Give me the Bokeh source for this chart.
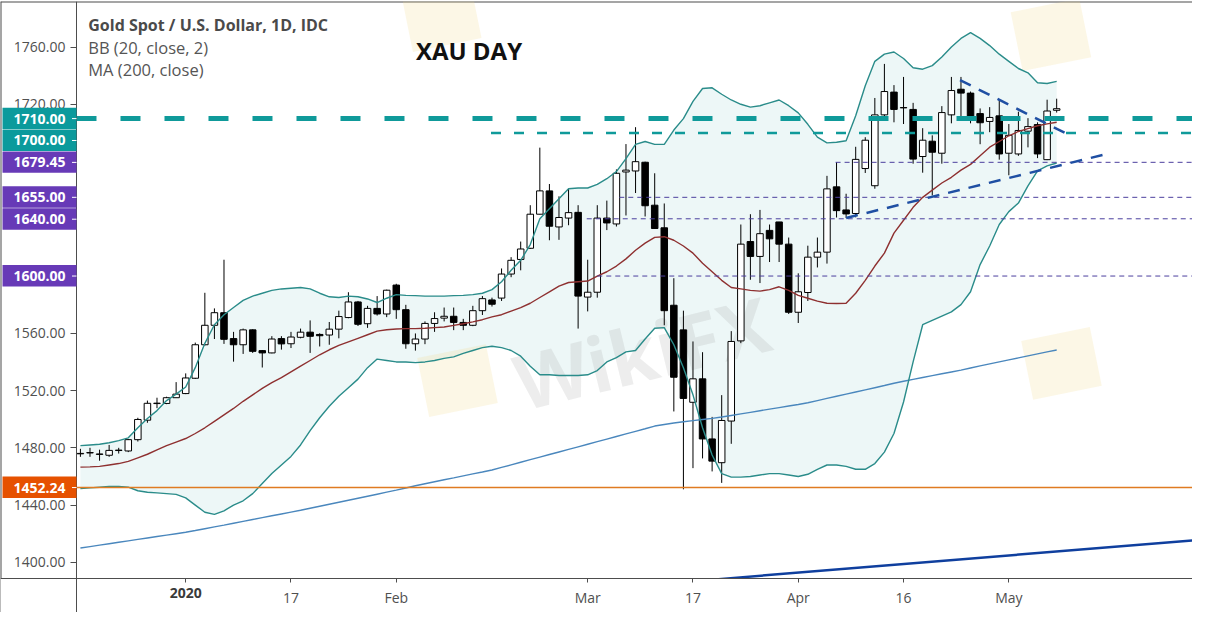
from bokeh.plotting import figure
from bokeh.models import Range1d, LinearAxis, FixedTicker, PrintfTickFormatter, ColumnDataSource
from bokeh.core.properties import value
from bokeh.embed import file_html
from bokeh.resources import INLINE

# ---------------- data ----------------
opens = [1475.9, 1476.4, 1475.5, 1474.8, 1478.2, 1477.8, 1485.7, 1499.3, 1511.0, 1511.0,
         1515.0, 1517.9, 1528.6, 1552.0, 1565.6, 1574.4, 1556.3, 1552.0, 1562.4, 1547.9,
         1546.3, 1556.3, 1552.7, 1557.2, 1560.8, 1559.2, 1558.8, 1562.9, 1571.0, 1581.9,
         1566.7, 1577.4, 1573.5, 1593.7, 1576.5, 1552.7, 1556.0, 1566.9, 1570.6, 1571.9,
         1567.6, 1565.6, 1575.8, 1583.3, 1584.6, 1601.4, 1611.6, 1619.4, 1643.2, 1659.5,
         1634.3, 1640.5, 1644.5, 1585.3, 1588.7, 1640.5, 1636.4, 1672.7, 1673.4, 1679.5,
         1649.5, 1633.7, 1579.6, 1562.4, 1511.8, 1528.2, 1486.2, 1469.6, 1498.7, 1554.7,
         1624.1, 1613.7, 1631.9, 1637.8, 1622.3, 1574.7, 1588.5, 1613.2, 1616.7, 1662.3,
         1646.2, 1643.7, 1675.1, 1663.1, 1712.6, 1728.5, 1717.6, 1716.4, 1683.5, 1694.2,
         1685.8, 1712.6, 1730.5, 1727.8, 1713.5, 1708.0, 1711.9, 1685.8, 1685.3, 1701.2,
         1705.8, 1681.3, 1715.8]
highs = [1479.3, 1480.0, 1478.7, 1482.0, 1480.0, 1486.0, 1501.0, 1513.0, 1515.0, 1515.7,
         1525.9, 1532.0, 1553.5, 1588.3, 1577.4, 1611.4, 1561.0, 1563.3, 1562.8, 1548.3,
         1558.0, 1558.0, 1561.0, 1563.3, 1569.0, 1560.0, 1567.9, 1575.8, 1588.7, 1582.6,
         1579.2, 1586.0, 1590.5, 1594.6, 1579.9, 1559.9, 1568.3, 1574.7, 1578.0, 1578.0,
         1570.1, 1579.2, 1586.0, 1584.9, 1605.3, 1613.2, 1624.1, 1649.5, 1689.7, 1664.3,
         1655.7, 1660.9, 1649.5, 1611.4, 1649.5, 1652.7, 1674.5, 1692.2, 1704.0, 1679.9,
         1671.8, 1650.7, 1598.5, 1575.8, 1554.3, 1546.8, 1501.6, 1516.8, 1561.5, 1636.0,
         1643.2, 1646.2, 1636.0, 1637.8, 1626.9, 1601.9, 1621.2, 1626.9, 1670.0, 1679.5,
         1657.5, 1690.3, 1697.0, 1724.4, 1748.2, 1733.4, 1739.1, 1721.0, 1703.3, 1698.3,
         1718.7, 1739.1, 1739.1, 1728.9, 1717.1, 1718.0, 1723.2, 1706.2, 1714.8, 1710.3,
         1707.4, 1723.2, 1723.9]
lows = [1473.7, 1473.7, 1471.0, 1473.7, 1476.0, 1477.0, 1484.4, 1497.5, 1507.7, 1510.5,
        1515.0, 1517.5, 1528.1, 1551.5, 1556.0, 1552.6, 1540.2, 1545.6, 1546.3, 1536.1,
        1546.0, 1548.6, 1549.7, 1556.5, 1546.3, 1550.8, 1552.0, 1556.5, 1570.5, 1565.1,
        1563.8, 1572.4, 1571.3, 1570.1, 1549.2, 1547.9, 1552.4, 1561.0, 1568.3, 1562.2,
        1562.2, 1565.0, 1572.8, 1578.7, 1582.6, 1599.2, 1604.0, 1619.0, 1643.0, 1625.0,
        1625.3, 1635.5, 1563.3, 1575.3, 1584.9, 1632.1, 1634.6, 1642.3, 1658.0, 1641.6,
        1633.0, 1565.6, 1505.4, 1451.0, 1465.8, 1472.6, 1463.5, 1455.5, 1482.8, 1553.1,
        1597.4, 1595.1, 1609.8, 1609.8, 1573.5, 1567.2, 1582.6, 1606.0, 1608.7, 1640.9,
        1640.5, 1641.0, 1672.0, 1661.0, 1708.5, 1707.4, 1706.2, 1678.5, 1672.2, 1656.3,
        1678.5, 1706.7, 1710.8, 1706.7, 1692.1, 1700.5, 1681.3, 1670.4, 1684.0, 1689.9,
        1682.4, 1681.0, 1714.2]
closes = [1476.0, 1476.6, 1475.6, 1478.2, 1478.3, 1485.7, 1499.8, 1511.1, 1511.1, 1515.0,
          1517.5, 1528.8, 1552.0, 1565.6, 1574.4, 1555.8, 1552.0, 1562.4, 1547.4, 1546.3,
          1556.0, 1552.6, 1557.4, 1560.8, 1557.9, 1558.3, 1562.9, 1571.7, 1581.9, 1566.3,
          1577.4, 1573.5, 1590.1, 1576.5, 1552.7, 1556.0, 1566.9, 1570.3, 1571.9, 1567.6,
          1565.6, 1575.8, 1584.2, 1580.3, 1601.4, 1611.0, 1618.9, 1643.2, 1659.5, 1634.8,
          1640.9, 1644.3, 1586.0, 1588.7, 1640.5, 1637.1, 1671.8, 1674.0, 1679.9, 1649.1,
          1633.2, 1575.8, 1529.3, 1514.5, 1528.2, 1486.2, 1470.7, 1499.1, 1554.3, 1622.3,
          1613.7, 1629.6, 1626.0, 1622.3, 1574.7, 1589.0, 1613.2, 1616.7, 1660.9, 1645.7,
          1643.4, 1681.5, 1694.9, 1712.6, 1728.9, 1716.4, 1717.6, 1681.7, 1694.9, 1686.5,
          1714.2, 1729.6, 1727.8, 1710.8, 1707.1, 1710.8, 1685.3, 1698.3, 1701.7, 1704.4,
          1685.3, 1715.3, 1716.9]

bb_upper = [1481.5, 1482.0, 1482.5, 1483.5, 1485.0, 1487.0, 1494.0, 1500.5, 1506.0, 1513.0,
            1517.5, 1522.5, 1536.0, 1553.0, 1566.0, 1573.0, 1578.0, 1583.0, 1586.0, 1588.0,
            1590.0, 1591.0, 1591.5, 1592.0, 1591.0, 1588.0, 1585.5, 1585.0, 1586.0, 1585.5,
            1584.0, 1581.5, 1584.5, 1587.0, 1586.5, 1586.3, 1586.0, 1586.0, 1586.0, 1586.3,
            1586.5, 1587.0, 1588.0, 1590.5, 1596.0, 1604.0, 1611.0, 1622.0, 1640.0, 1647.0,
            1654.0, 1661.0, 1661.5, 1661.5, 1664.0, 1668.0, 1673.0, 1682.0, 1692.0, 1694.0,
            1692.0, 1692.0, 1702.0, 1710.0, 1722.0, 1731.0, 1731.5, 1727.0, 1723.0, 1720.0,
            1718.0, 1719.0, 1721.0, 1723.0, 1719.0, 1714.0, 1706.0, 1697.0, 1693.0, 1693.5,
            1694.5, 1712.0, 1733.0, 1750.0, 1755.0, 1756.5, 1752.0, 1745.5, 1744.5, 1747.0,
            1753.0, 1760.0, 1766.0, 1770.0, 1766.0, 1761.0, 1755.0, 1750.0, 1745.0, 1742.0,
            1735.0, 1734.5, 1736.0]
bb_mid = [1466.5, 1466.7, 1467.0, 1468.0, 1469.0, 1470.5, 1473.0, 1475.5, 1478.5, 1481.5,
          1484.0, 1486.5, 1490.0, 1494.0, 1498.5, 1503.0, 1507.5, 1512.5, 1517.0, 1521.5,
          1525.5, 1529.0, 1533.0, 1537.0, 1541.0, 1545.0, 1548.5, 1551.5, 1554.0, 1556.5,
          1559.0, 1561.5, 1562.5, 1563.0, 1563.3, 1563.3, 1563.5, 1564.0, 1564.4, 1565.5,
          1566.7, 1568.0, 1569.5, 1571.5, 1573.0, 1575.5, 1578.0, 1581.0, 1585.0, 1589.0,
          1593.0, 1595.5, 1596.0, 1596.5, 1600.0, 1603.0, 1607.0, 1612.0, 1618.0, 1623.0,
          1627.0, 1627.5, 1625.0, 1621.0, 1616.0, 1609.0, 1603.0, 1597.0, 1592.0, 1591.0,
          1590.0, 1589.5, 1590.5, 1592.5, 1590.0, 1586.5, 1584.5, 1582.5, 1581.0, 1580.8,
          1581.0, 1588.0, 1597.0, 1607.0, 1616.0, 1630.0, 1639.0, 1648.0, 1655.0, 1660.0,
          1665.0, 1669.0, 1674.0, 1678.0, 1684.0, 1690.0, 1694.0, 1698.0, 1701.0, 1703.0,
          1705.0, 1706.3, 1707.4]
bb_lower = [1451.5, 1452.0, 1452.5, 1453.0, 1453.0, 1452.5, 1450.0, 1449.0, 1448.5, 1448.0,
            1447.5, 1445.0, 1440.0, 1435.0, 1433.5, 1436.0, 1440.0, 1443.0, 1448.0, 1455.0,
            1462.0, 1468.0, 1474.0, 1482.0, 1492.0, 1501.0, 1509.0, 1516.0, 1522.0, 1528.0,
            1536.0, 1542.0, 1541.0, 1540.0, 1540.0, 1539.5, 1540.0, 1541.0, 1542.5, 1543.5,
            1546.0, 1548.0, 1550.0, 1551.0, 1550.0, 1548.0, 1544.0, 1537.0, 1531.0, 1531.0,
            1530.5, 1530.5, 1530.5, 1531.0, 1534.0, 1540.0, 1543.0, 1547.0, 1548.0, 1556.0,
            1563.5, 1564.0, 1552.0, 1536.0, 1517.0, 1494.0, 1475.0, 1462.0, 1459.5, 1459.5,
            1460.0, 1461.0, 1462.0, 1462.0, 1461.0, 1460.0, 1461.5, 1465.0, 1468.0, 1468.0,
            1467.0, 1465.0, 1465.0, 1469.0, 1477.0, 1490.0, 1512.0, 1540.0, 1566.0, 1569.0,
            1572.0, 1575.0, 1580.0, 1589.0, 1608.0, 1621.0, 1636.0, 1645.0, 1651.0, 1663.0,
            1673.5, 1677.0, 1679.0]
ma200 = [1410.0, 1411.0, 1412.0, 1413.0, 1414.0, 1415.0, 1416.0, 1417.0, 1418.0, 1419.0,
         1420.0, 1421.0, 1422.2, 1423.5, 1424.8, 1426.0, 1427.3, 1428.6, 1429.9, 1431.2,
         1432.5, 1433.8, 1435.1, 1436.4, 1437.8, 1439.2, 1440.6, 1442.0, 1443.4, 1444.8,
         1446.2, 1447.6, 1449.0, 1450.4, 1451.9, 1453.5, 1454.9, 1456.3, 1457.7, 1459.0,
         1460.4, 1461.8, 1463.1, 1464.5, 1466.3, 1468.1, 1469.9, 1471.7, 1473.5, 1475.3,
         1477.1, 1478.9, 1480.7, 1482.5, 1484.3, 1486.1, 1487.9, 1489.7, 1491.5, 1493.3,
         1495.2, 1496.3, 1497.3, 1498.2, 1499.0, 1499.8, 1500.6, 1501.5, 1502.6, 1503.7,
         1504.8, 1505.9, 1507.0, 1508.1, 1509.2, 1510.3, 1511.5, 1513.0, 1514.5, 1516.0,
         1517.5, 1519.0, 1520.5, 1522.0, 1523.5, 1525.1, 1526.5, 1527.8, 1529.1, 1530.4,
         1531.7, 1533.0, 1534.3, 1535.8, 1537.2, 1538.6, 1540.0, 1541.4, 1542.8, 1544.2,
         1545.6, 1547.0, 1548.3]

# time-axis ticks (bar numbers) and their labels
tick_bars = [11, 22, 33, 53, 64, 75, 86, 97]
tick_labels = ["2020", "17", "Feb", "Mar", "17", "Apr", "16", "May"]
bold_tick_labels = ["2020"]
price_ticks = [1400, 1440, 1480, 1520, 1560, 1600, 1640, 1680, 1720, 1760]

# horizontal levels drawn on the chart and where each one starts (bar number)
level_values = [1710.00, 1700.00, 1679.45, 1655.00, 1640.00, 1600.00]
level_start_bars = [-0.41, 42.9, 78.9, 56.3, 52.9, 54.0]
support_value = 1452.24

# price-scale markers
marker_values = [1710.00, 1700.00, 1679.45, 1655.00, 1640.00, 1600.00, 1452.24]
marker_colors = ["#0b9a9c", "#0b9a9c", "#673ab7", "#673ab7", "#673ab7", "#673ab7", "#e65100"]

# drawn trend lines (bar number, price)
trend_down_bars = [91.9, 102.9]
trend_down_prices = [1736.9, 1699.9]
trend_up_bars = [80.0, 106.8]
trend_up_prices = [1640.6, 1684.6]
trend_long_bars = [60.0, 116.2]
trend_long_prices = [1384.6, 1415.3]

# watermark placements (bar number, price)
wm_text_bars = [45.5]
wm_text_prices = [1525.5]
wm_logo_bars = [37.7, 39.4, 101.4, 102.5]
wm_logo_prices = [1782.0, 1527.0, 1768.6, 1539.0]

# ---------------- layout constants ----------------
X0, X1 = -8.35, 116.19
Y0, Y1 = 1364.95, 1791.8      # frame covers the whole figure height
TIME_AXIS_Y = 1388.7          # price at which the time axis sits
AXIS_X = -0.41                # bar position of the price axis
BOX_LEFT = -8.14
BOX_H = 15.3
FONT = "Open Sans"
AXIS_COLOR = "#4d4d4d"
LABEL_COLOR = "#505050"

bars = list(range(len(opens)))

p = figure(width=1192, height=612,
           x_range=Range1d(X0, X1), y_range=Range1d(Y0, Y1),
           output_backend="svg", toolbar_location=None,
           x_axis_location=None, y_axis_location=None,
           min_border_left=0, min_border_right=0, min_border_top=1, min_border_bottom=0,
           outline_line_color=None,
           background_fill_color="white", border_fill_color="white")
p.grid.visible = False

# outer border (top and left)
p.line([X0, X1], [Y1, Y1], line_color=AXIS_COLOR, line_width=2)
p.line([X0, X0], [Y0, Y1], line_color=AXIS_COLOR, line_width=2)

# Bollinger band fill
p.varea(x=bars, y1=bb_lower, y2=bb_upper, fill_color="#edf7f7", fill_alpha=1.0)

# watermarks (faint)
p.rect(x=wm_logo_bars, y=wm_logo_prices, width=70, height=60, width_units="screen",
       height_units="screen", angle=0.2, fill_color="#f2dc8c", fill_alpha=0.22, line_color=None)
p.text(x=wm_text_bars, y=wm_text_prices, text=["WikiFX"] * len(wm_text_bars),
       text_font=value(FONT), text_font_size="76px", text_font_style="bold",
       text_color="#8c8c8c", text_alpha=0.16, angle=0.24,
       text_align="left", text_baseline="alphabetic")

# candles
up = [c >= o for o, c in zip(opens, closes)]
body_top = [max(o, c) for o, c in zip(opens, closes)]
body_bot = [min(o, c) for o, c in zip(opens, closes)]
body_top = [t if t - b > 0.2 else t + 0.1 for t, b in zip(body_top, body_bot)]
body_bot = [b if t - b > 0.2 else b - 0.1 for t, b in zip(body_top, body_bot)]
src = ColumnDataSource(dict(x=bars, h=highs, l=lows, top=body_top, bottom=body_bot,
                            fill=["white" if u else "black" for u in up]))
p.segment(x0="x", y0="l", x1="x", y1="h", source=src, line_color="black", line_width=1)
p.vbar(x="x", top="top", bottom="bottom", width=0.68, source=src,
       fill_color="fill", line_color="black", line_width=1)

# indicator lines
p.line(bars, ma200, line_color="#4a87bd", line_width=1.4)
p.line(bars, bb_mid, line_color="#8e3030", line_width=1.4)
p.line(bars, bb_upper, line_color="#2a8c8a", line_width=1.4)
p.line(bars, bb_lower, line_color="#2a8c8a", line_width=1.4)

# support line
p.line([AXIS_X, X1], [support_value, support_value], line_color="#e07b22", line_width=1.4)

# horizontal levels
for v, s in zip(level_values, level_start_bars):
    if v == 1710.00:
        p.line([s, X1], [v, v], line_color="#0f9a9a", line_width=5, line_dash="20 24")
    elif v == 1700.00:
        p.line([s, X1], [v, v], line_color="#0f9a9a", line_width=2.5, line_dash="10 13")
    else:
        p.line([s, X1], [v, v], line_color="#4b3f9e", line_width=1, line_dash="5 4")

# trend lines
p.line(trend_down_bars, trend_down_prices, line_color="#1f4fa3", line_width=2.5, line_dash="12 9")
p.line(trend_up_bars, trend_up_prices, line_color="#1f4fa3", line_width=2.5, line_dash="12 9")
p.line(trend_long_bars, trend_long_prices, line_color="#0f3f9e", line_width=2.5)

# white strip under the time axis (the time scale area)
p.varea(x=[X0, X1], y1=[Y0, Y0], y2=[TIME_AXIS_Y, TIME_AXIS_Y], fill_color="white")

# legend / title texts
p.text(x=[0.82], y=[1775.5], text=["Gold Spot / U.S. Dollar, 1D, IDC"],
       text_font=value(FONT), text_font_size="16px", text_font_style="bold",
       text_color="#4a4a4a", text_baseline="middle", text_align="left")
p.text(x=[0.82, 0.82], y=[1759.8, 1744.1], text=["BB (20, close, 2)", "MA (200, close)"],
       text_font=value(FONT), text_font_size="16.5px", text_color="#555555",
       text_baseline="middle", text_align="left")
p.text(x=[35.05], y=[1757.8], text=["XAU DAY"], text_font=value(FONT),
       text_font_size="24px", text_font_style="bold", text_color="#111111",
       text_baseline="middle", text_align="left")

# price axis (at the split between price scale and chart)
yaxis = LinearAxis(fixed_location=AXIS_X, ticker=FixedTicker(ticks=price_ticks, minor_ticks=[]),
                   formatter=PrintfTickFormatter(format="%.2f"))
yaxis.axis_line_color = AXIS_COLOR
yaxis.major_tick_line_color = AXIS_COLOR
yaxis.major_tick_in = 0
yaxis.major_tick_out = 6
yaxis.minor_tick_line_color = None
yaxis.major_label_standoff = 5
yaxis.major_label_text_font = FONT
yaxis.major_label_text_font_size = "14px"
yaxis.major_label_text_color = LABEL_COLOR
p.add_layout(yaxis, "left")

# time axis
xaxis = LinearAxis(fixed_location=TIME_AXIS_Y, ticker=FixedTicker(ticks=tick_bars, minor_ticks=[]),
                   major_label_overrides={b: ("" if t in bold_tick_labels else t)
                                          for b, t in zip(tick_bars, tick_labels)})
xaxis.axis_line_color = AXIS_COLOR
xaxis.major_tick_line_color = AXIS_COLOR
xaxis.major_tick_in = 0
xaxis.major_tick_out = 4
xaxis.minor_tick_line_color = None
xaxis.major_label_standoff = 5
xaxis.major_label_text_font = FONT
xaxis.major_label_text_font_size = "14px"
xaxis.major_label_text_color = LABEL_COLOR
p.add_layout(xaxis, "below")

# the year label of the time axis is bold
bold_bars = [b for b, t in zip(tick_bars, tick_labels) if t in bold_tick_labels]
xaxis2 = LinearAxis(fixed_location=TIME_AXIS_Y, ticker=FixedTicker(ticks=bold_bars, minor_ticks=[]),
                    major_label_overrides={b: t for b, t in zip(tick_bars, tick_labels)
                                           if t in bold_tick_labels})
xaxis2.axis_line_color = None
xaxis2.major_tick_line_color = None
xaxis2.major_tick_in = 0
xaxis2.major_tick_out = 4
xaxis2.minor_tick_line_color = None
xaxis2.major_label_standoff = 5
xaxis2.major_label_text_font = FONT
xaxis2.major_label_text_font_size = "14px"
xaxis2.major_label_text_font_style = "bold"
xaxis2.major_label_text_color = "#3a3a3a"
p.add_layout(xaxis2, "below")

# price-scale markers (boxes), pushed apart like the price scale does
disp = []
for v in marker_values:
    d = v
    if disp and disp[-1] - d < BOX_H:
        d = disp[-1] - BOX_H
    disp.append(d)
p.quad(left=[BOX_LEFT] * len(disp), right=[AXIS_X] * len(disp),
       top=[d + BOX_H / 2 for d in disp], bottom=[d - BOX_H / 2 + 0.35 for d in disp],
       fill_color=marker_colors, line_color=None, level="overlay")
p.segment(x0=[AXIS_X - 0.47] * len(disp), x1=[AXIS_X] * len(disp), y0=disp, y1=disp,
          line_color="white", line_width=1, level="overlay")
p.text(x=[(BOX_LEFT + AXIS_X) / 2] * len(disp), y=disp, text=[f"{v:.2f}" for v in marker_values],
       text_font=value(FONT), text_font_size="14px", text_font_style="bold",
       text_color="white", text_align="center", text_baseline="middle", level="overlay")

open("out.html", "w").write(file_html(p, INLINE))
